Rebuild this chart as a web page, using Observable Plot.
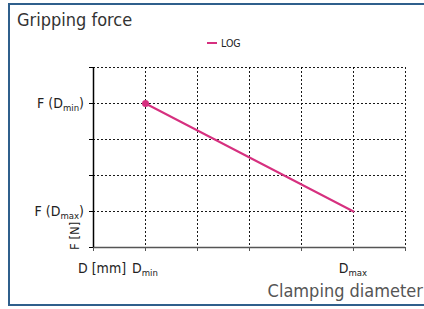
<!DOCTYPE html>
<html>
<head>
<meta charset="utf-8">
<script src="https://cdn.jsdelivr.net/npm/d3@7"></script>
<script src="https://cdn.jsdelivr.net/npm/@observablehq/plot@0.6"></script>
<style>
  html, body { margin: 0; padding: 0; background: #fff; }
  #wrap { position: relative; width: 424px; height: 309px; overflow: hidden; }
  #frame { position: absolute; left: 8px; top: 3px; width: 430px; height: 299px;
           border-top: 2px solid #2f5f8c; border-left: 2px solid #2f5f8c; border-bottom: 2px solid #2f5f8c; }
  #wrap svg { position: absolute; left: 0; top: 0; }
</style>
</head>
<body>
<div id="wrap"><div id="frame"></div></div>
<script>
const FONT = "'DejaVu Sans Condensed', 'DejaVu Sans', sans-serif";
const title = "Gripping force";
const xTitle = "Clamping diameter";
const seriesName = "LOG";
const seriesColor = "#d6307f";
const xTicks = [0, 1, 2, 3, 4, 5, 6];
const yTicks = [0, 1, 2, 3, 4, 5];
const lineX = [1, 5];
const lineY = [4, 1];
const xTickLabels = [{v: 1, base: "D", sub: "min"}, {v: 5, base: "D", sub: "max"}];
const yTickLabels = [{v: 4, base: "F (D", sub: "min", tail: ")"}, {v: 1, base: "F (D", sub: "max", tail: ")"}];
const xUnit = "D [mm]";
const yUnit = "F [N]";

const data = lineX.map((x, i) => ({x, y: lineY[i]}));

const plot = Plot.plot({
  width: 424, height: 309,
  marginLeft: 93, marginRight: 19, marginTop: 67, marginBottom: 62,
  style: {fontFamily: FONT, background: "transparent"},
  x: {domain: [0, 6]},
  y: {domain: [0, 5]},
  marks: [
    Plot.gridX(xTicks.slice(1), {stroke: "#000", strokeOpacity: 0.9, strokeDasharray: "2,2"}),
    Plot.gridY(yTicks.slice(1), {stroke: "#000", strokeOpacity: 0.9, strokeDasharray: "2,2"}),
    Plot.axisX(xTicks, {tickSize: 4, tickFormat: () => "", label: null, stroke: "#555"}),
    Plot.axisY(yTicks, {tickSize: 4, tickFormat: () => "", label: null, stroke: "#000"}),
    Plot.ruleY([0], {stroke: "#555", strokeWidth: 1.5}),
    Plot.ruleX([0], {stroke: "#000", strokeWidth: 1.5}),
    Plot.line(data, {x: "x", y: "y", stroke: seriesColor, strokeWidth: 2}),
    Plot.dot([data[0]], {x: "x", y: "y", r: 3.5, fill: seriesColor, stroke: "none"})
  ]
});
document.getElementById("wrap").appendChild(plot);

const sx = plot.scale("x"), sy = plot.scale("y");
const svg = d3.select(plot);
const g = svg.append("g").attr("font-family", FONT).attr("text-anchor", "start");

g.append("text").attr("x", 17).attr("y", 26).attr("font-size", 18).attr("fill", "#333").text(title);
g.append("text").attr("x", 423).attr("y", 297).attr("font-size", 18).attr("fill", "#555")
  .attr("text-anchor", "end").text(xTitle);

// legend
g.append("line").attr("x1", 207).attr("x2", 217).attr("y1", 43).attr("y2", 43)
  .attr("stroke", seriesColor).attr("stroke-width", 2);
g.append("text").attr("x", 221).attr("y", 47).attr("font-size", 10.5).attr("fill", "#222").text(seriesName);

// y tick labels
for (const d of yTickLabels) {
  const t = g.append("text").attr("x", 84).attr("y", sy.apply(d.v)).attr("dy", "0.38em")
    .attr("text-anchor", "end").attr("font-size", 14).attr("fill", "#222");
  t.append("tspan").text(d.base);
  t.append("tspan").attr("font-size", 9.5).attr("dy", 3).text(d.sub);
  t.append("tspan").attr("dy", -3).text(d.tail);
}
// x tick labels
for (const d of xTickLabels) {
  const t = g.append("text").attr("x", sx.apply(d.v)).attr("y", 273)
    .attr("text-anchor", "middle").attr("font-size", 14).attr("fill", "#222");
  t.append("tspan").text(d.base);
  t.append("tspan").attr("font-size", 9.5).attr("dy", 3).text(d.sub);
}
// unit labels
g.append("text").attr("x", 78).attr("y", 273).attr("font-size", 14).attr("fill", "#222").text(xUnit);
g.append("text").attr("transform", `translate(79,${sy.apply(0) + 3}) rotate(-90)`)
  .attr("font-size", 13).attr("fill", "#222").text(yUnit);
</script>
</body>
</html>
